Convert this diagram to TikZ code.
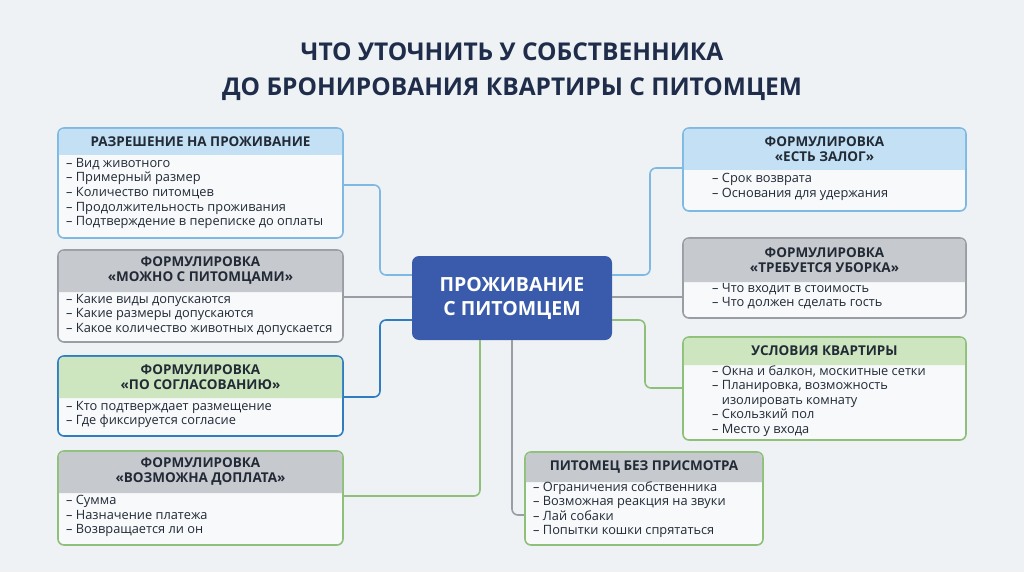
\documentclass[tikz,border=0pt]{standalone}
\usepackage{fontspec}
\setmainfont{Open Sans}
\usetikzlibrary{calc}
\definecolor{bg}{HTML}{EEF2F5}
\definecolor{navy}{HTML}{1F2D4A}
\definecolor{cblue}{HTML}{3A5BAB}
\definecolor{lbB}{HTML}{7DB9E3}\definecolor{lbH}{HTML}{C3E0F4}
\definecolor{gyB}{HTML}{9A9EA4}\definecolor{gyH}{HTML}{C6C9CE}
\definecolor{grB}{HTML}{8EC07A}\definecolor{grH}{HTML}{CDE6BF}
\definecolor{dbB}{HTML}{2E7DC0}
\definecolor{txt}{HTML}{222A36}
\tikzset{
 x=1pt,y=-1pt,
 conn/.style={line width=1.6pt,rounded corners=6pt},
 ttl/.style={font=\fontsize{13.5}{15}\selectfont\bfseries,text=txt,align=center},
 itm/.style={font=\fontsize{12.8}{14.6}\selectfont,text=txt,align=left,anchor=north west,inner sep=0pt},
}
\newcommand\mycard[6]{%
 \node[draw=#6,line width=1.6pt,fill=white!55!bg,rounded corners=6pt,minimum width=#4-#2,minimum height=#5-#3,inner sep=0pt] (#1) at ({(#2+#4)/2},{(#3+#5)/2}) {};
}
\newcommand\myhead[7]{%
 \fill[#6,rounded corners=5pt] (#2+0.8,#5) -- (#2+0.8,#3+0.8) -- (#4-0.8,#3+0.8) [sharp corners] -- (#4-0.8,#5) -- cycle;
 \node[ttl] at ({(#2+#4)/2},{(#3+#5)/2}) {#7};
}
\begin{document}
\begin{tikzpicture}
\fill[bg] (0,0) rectangle (1024,572);
\useasboundingbox (0,0) rectangle (1024,572);
\node[font=\fontsize{24.5}{35}\selectfont\bfseries,text=navy,align=center] (title) at (512,72) {ЧТО УТОЧНИТЬ У СОБСТВЕННИКА\\ДО БРОНИРОВАНИЯ КВАРТИРЫ С ПИТОМЦЕМ};
\node[fill=cblue,rounded corners=7pt,minimum width=200,minimum height=84,text=white,font=\fontsize{19.5}{24}\selectfont\bfseries,align=center] (c) at (512,298) {ПРОЖИВАНИЕ\\С ПИТОМЦЕМ};
\draw[conn,lbB] (343,185) -- (380,185) -- (380,275) -- (c.west|-0,275);
\draw[conn,gyB] (343,297) -- (c.west|-0,297);
\draw[conn,dbB] (343,397) -- (380,397) -- (380,320) -- (c.west|-0,320);
\draw[conn,grB] (343,496) -- (480,496) -- (c.south-|480,0);
\draw[conn,gyB] (c.south-|512,0) -- (512,515) -- (525,515);
\draw[conn,lbB] (c.east|-0,275) -- (650,275) -- (650,168) -- (683,168);
\draw[conn,gyB] (c.east|-0,297) -- (683,297);
\draw[conn,grB] (c.east|-0,320) -- (645,320) -- (645,388) -- (683,388);
\mycard{b1}{58}{128}{343}{238}{lbB}
\myhead{b1}{58}{128}{343}{155}{lbH}{РАЗРЕШЕНИЕ НА ПРОЖИВАНИЕ}
\node[itm] (t1) at (66,158) {– Вид животного\\– Примерный размер\\– Количество питомцев\\– Продолжительность проживания\\– Подтверждение в переписке до оплаты};
\mycard{b2}{58}{250}{343}{342}{gyB}
\myhead{b2}{58}{250}{343}{292}{gyH}{ФОРМУЛИРОВКА\\«МОЖНО С ПИТОМЦАМИ»}
\node[itm] (t2) at (66,294) {– Какие виды допускаются\\– Какие размеры допускаются\\– Какое количество животных допускается};
\mycard{b3}{58}{356}{343}{436}{dbB}
\myhead{b3}{58}{356}{343}{398}{grH}{ФОРМУЛИРОВКА\\«ПО СОГЛАСОВАНИЮ»}
\node[itm] (t3) at (66,401) {– Кто подтверждает размещение\\– Где фиксируется согласие};
\mycard{b4}{58}{451}{343}{545}{grB}
\myhead{b4}{58}{451}{343}{493}{gyH}{ФОРМУЛИРОВКА\\«ВОЗМОЖНА ДОПЛАТА»}
\node[itm] (t4) at (66,495) {– Сумма\\– Назначение платежа\\– Возвращается ли он};
\mycard{b5}{683}{128}{966}{211}{lbB}
\myhead{b5}{683}{128}{966}{170}{lbH}{ФОРМУЛИРОВКА\\«ЕСТЬ ЗАЛОГ»}
\node[itm] (t5) at (712,173) {– Срок возврата\\– Основания для удержания};
\mycard{b6}{683}{238}{966}{318}{gyB}
\myhead{b6}{683}{238}{966}{282}{gyH}{ФОРМУЛИРОВКА\\«ТРЕБУЕТСЯ УБОРКА»}
\node[itm] (t6) at (712,283) {– Что входит в стоимость\\– Что должен сделать гость};
\mycard{b7}{683}{337}{966}{440}{grB}
\myhead{b7}{683}{337}{966}{365}{grH}{УСЛОВИЯ КВАРТИРЫ}
\node[itm] (t7) at (712,365) {– Окна и балкон, москитные сетки\\– Планировка, возможность\\\phantom{– }изолировать комнату\\– Скользкий пол\\– Место у входа};
\mycard{b8}{525}{452}{763}{545}{grB}
\myhead{b8}{525}{452}{763}{482}{gyH}{ПИТОМЕЦ БЕЗ ПРИСМОТРА}
\node[itm] (t8) at (533,481) {– Ограничения собственника\\– Возможная реакция на звуки\\– Лай собаки\\– Попытки кошки спрятаться};
\end{tikzpicture}
\end{document}
